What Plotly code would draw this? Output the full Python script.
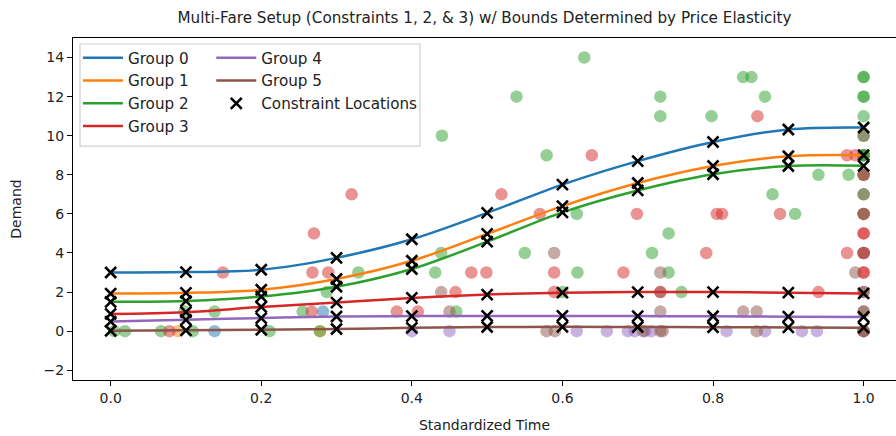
import plotly.graph_objects as go

# Constraint locations along standardized time
knots = [0.0, 0.1, 0.2, 0.3, 0.4, 0.5, 0.6, 0.7, 0.8, 0.9, 1.0]

# Fitted demand curve for each fare group at the constraint locations
curve_g0 = [3.0, 3.02, 3.14, 3.75, 4.7, 6.05, 7.5, 8.7, 9.68, 10.32, 10.42]
curve_g1 = [1.92, 1.96, 2.12, 2.67, 3.6, 4.98, 6.4, 7.58, 8.45, 8.95, 9.0]
curve_g2 = [1.5, 1.54, 1.77, 2.27, 3.18, 4.58, 6.08, 7.2, 8.03, 8.45, 8.46]
curve_g3 = [0.88, 0.97, 1.24, 1.46, 1.7, 1.87, 1.97, 2.0, 2.0, 1.97, 1.93]
curve_g4 = [0.49, 0.58, 0.67, 0.75, 0.77, 0.78, 0.78, 0.77, 0.76, 0.74, 0.73]
curve_g5 = [0.02, 0.04, 0.07, 0.11, 0.17, 0.21, 0.22, 0.21, 0.2, 0.19, 0.18]

# Observed demand per group
obs_g0_t = [0.138, 0.282]
obs_g0_d = [0, 1]

obs_g1_t = [0.089, 0.278, 1.0]
obs_g1_d = [0, 0, 9]

obs_g2_t = [0.005, 0.019, 0.067, 0.109, 0.098, 0.138, 0.211, 0.278, 0.255, 0.287,
            0.329, 0.431, 0.439, 0.44, 0.459, 0.539, 0.55, 0.579, 0.6, 0.62,
            0.619, 0.629, 0.719, 0.73, 0.73, 0.741, 0.741, 0.758, 0.798, 0.84,
            0.851, 0.869, 0.879, 0.909, 0.94, 0.98,
            1.0, 1.0, 1.0, 1.0, 1.0, 1.0, 1.0, 1.0, 1.0, 1.0, 1.0, 1.0]
obs_g2_d = [0, 0, 0, 0, 1, 1, 0, 0, 1, 2,
            3, 3, 4, 10, 1, 12, 4, 9, 2, 3,
            6, 14, 4, 12, 11, 5, 3, 2, 11, 13,
            13, 12, 7, 6, 8, 8,
            13, 13, 12, 12, 11, 10, 9, 9, 8, 7, 6, 9]

obs_g3_t = [0.078, 0.149, 0.267, 0.268, 0.289, 0.27, 0.32, 0.38, 0.408, 0.458,
            0.479, 0.499, 0.519, 0.57, 0.589, 0.589, 0.639, 0.681, 0.699, 0.73,
            0.791, 0.805, 0.812, 0.859, 0.889, 0.94, 0.978, 0.989, 0.978,
            1.0, 1.0, 1.0, 1.0, 1.0, 1.0, 1.0, 1.0]
obs_g3_d = [0, 3, 1, 3, 3, 5, 7, 1, 1, 2,
            3, 3, 7, 6, 3, 2, 9, 3, 6, 2,
            4, 6, 6, 11, 6, 2, 9, 9, 4,
            6, 5, 5, 4, 4, 3, 3, 8]

obs_g4_t = [0.4, 0.45, 0.619, 0.659, 0.687, 0.696, 0.71, 0.718, 0.818, 0.869,
            0.918, 0.938]
obs_g4_d = [0, 0, 0, 0, 0, 0, 0, 0, 0, 0, 0, 0]

obs_g5_t = [0.439, 0.45, 0.589, 0.579, 0.59, 0.707, 0.73, 0.733, 0.73, 0.73,
            0.73, 0.84, 0.858, 0.858, 0.989,
            1.0, 1.0, 1.0, 1.0, 1.0, 1.0, 1.0, 1.0, 1.0, 1.0, 1.0, 1.0]
obs_g5_d = [2, 1, 4, 0, 0, 0, 0, 0, 1, 3,
            2, 1, 1, 0, 3,
            10, 8, 7, 6, 4, 2, 2, 1, 1, 0, 0, 0]

group_names = ["Group 0", "Group 1", "Group 2", "Group 3", "Group 4", "Group 5"]
colors = ["#1f77b4", "#ff7f0e", "#2ca02c", "#d62728", "#9467bd", "#8c564b"]
curves = [curve_g0, curve_g1, curve_g2, curve_g3, curve_g4, curve_g5]
obs = [(obs_g0_t, obs_g0_d), (obs_g1_t, obs_g1_d), (obs_g2_t, obs_g2_d),
       (obs_g3_t, obs_g3_d), (obs_g4_t, obs_g4_d), (obs_g5_t, obs_g5_d)]

FONT = "DejaVu Sans"
fig = go.Figure()

# observed demand points, semi-transparent
for (t, d), c in zip(obs, colors):
    fig.add_trace(go.Scatter(
        x=t, y=d, mode="markers", showlegend=False, hoverinfo="skip",
        marker=dict(size=12.5, color=c, opacity=0.5, line=dict(width=0)),
    ))

# fitted demand curves
for i, (name, c, yv) in enumerate(zip(group_names, colors, curves)):
    fig.add_trace(go.Scatter(
        x=knots, y=yv, mode="lines", name=name,
        line=dict(color=c, width=2.5, shape="spline", smoothing=1.0),
        legend="legend" if i < 4 else "legend2",
    ))

# constraint markers at each knot of every curve
cx = [k for _ in curves for k in knots]
cy = [v for yv in curves for v in yv]
fig.add_trace(go.Scatter(
    x=cx, y=cy, mode="markers", name="Constraint Locations", legend="legend2",
    marker=dict(symbol="x-thin", size=11, color="black",
                line=dict(color="black", width=2.6)),
))

legend_font = dict(family=FONT, size=15.2, color="#222222")
fig.update_layout(
    width=896, height=436,
    margin=dict(l=73, r=0, t=38, b=56),
    paper_bgcolor="white", plot_bgcolor="white",
    title=dict(
        text="Multi-Fare Setup (Constraints 1, 2, &amp; 3) w/ Bounds Determined by Price Elasticity",
        font=dict(family=FONT, size=15.2, color="#222222"),
        x=0.5, xref="paper", xanchor="center", y=1 - 18 / 436, yanchor="middle",
    ),
    legend=dict(x=0.006, y=0.99, xanchor="left", yanchor="top", itemwidth=40,
                bgcolor="rgba(0,0,0,0)", font=legend_font, borderwidth=0),
    legend2=dict(x=0.168, y=0.99, xanchor="left", yanchor="top", itemwidth=40,
                 bgcolor="rgba(0,0,0,0)", font=legend_font, borderwidth=0),
    shapes=[dict(type="rect", xref="paper", yref="paper",
                 x0=0.0085, x1=0.4216, y0=0.684, y1=0.9825, layer="above",
                 fillcolor="rgba(255,255,255,0.8)",
                 line=dict(color="#d0d0d0", width=1.2))],
)

fig.update_xaxes(
    range=[-0.05, 1.043], tickvals=[0.0, 0.2, 0.4, 0.6, 0.8, 1.0],
    ticktext=["0.0", "0.2", "0.4", "0.6", "0.8", "1.0"],
    showgrid=False, zeroline=False, showline=True, mirror=True,
    linecolor="black", linewidth=1.2, ticks="outside", ticklen=5,
    tickwidth=1.2, tickcolor="black",
    tickfont=dict(family=FONT, size=14, color="#222222"),
    title=dict(text="Standardized Time", font=dict(family=FONT, size=14, color="#222222"), standoff=15),
)
fig.update_yaxes(
    range=[-2.5, 15.0], tickvals=[-2, 0, 2, 4, 6, 8, 10, 12, 14],
    ticktext=["\u22122", "0", "2", "4", "6", "8", "10", "12", "14"],
    showgrid=False, zeroline=False, showline=True, mirror=False,
    linecolor="black", linewidth=1.2, ticks="outside", ticklen=5,
    tickwidth=1.2, tickcolor="black",
    tickfont=dict(family=FONT, size=14, color="#222222"),
    title=dict(text="Demand", font=dict(family=FONT, size=14, color="#222222"), standoff=18),
)

fig.write_html("out.html")
